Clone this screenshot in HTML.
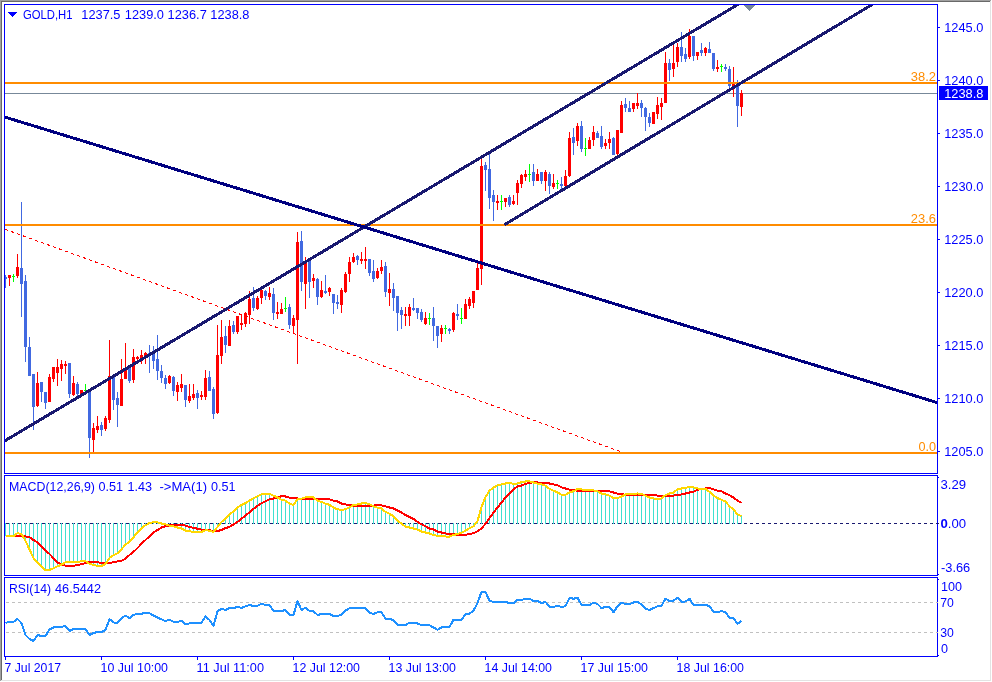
<!DOCTYPE html>
<html><head><meta charset="utf-8"><title>GOLD,H1</title>
<style>
html,body{margin:0;padding:0;background:#fff;overflow:hidden}
svg{display:block}
text{font-family:"Liberation Sans",sans-serif}
</style></head>
<body>
<svg width="992" height="682" viewBox="0 0 992 682" font-family="'Liberation Sans', sans-serif" font-size="13">
<g shape-rendering="crispEdges">
<rect x="0" y="0" width="992" height="682" fill="#ffffff"/>
<rect x="0" y="0" width="991" height="1" fill="#a0a0a0"/>
<rect x="0" y="0" width="1" height="681" fill="#a0a0a0"/>
<rect x="1" y="1" width="989" height="1" fill="#696969"/>
<rect x="1" y="1" width="1" height="679" fill="#696969"/>
<rect x="990" y="1" width="1" height="680" fill="#e3e3e3"/>
<rect x="1" y="680" width="990" height="1" fill="#e3e3e3"/>
<clipPath id="cm"><rect x="5" y="5" width="932" height="468"/></clipPath>
<g clip-path="url(#cm)">
<line x1="5" y1="229.3" x2="621" y2="451.8" stroke="#ff0000" stroke-width="1" stroke-dasharray="3.19 3.19"/>
<rect x="5" y="93" width="932" height="1" fill="#778899"/>
<rect x="5" y="275" width="1" height="13" fill="#4169e1"/>
<rect x="4" y="277" width="3" height="2" fill="#4169e1"/>
<rect x="9" y="275" width="1" height="11" fill="#ff0000"/>
<rect x="8" y="275" width="3" height="3" fill="#ff0000"/>
<rect x="13" y="274" width="1" height="8" fill="#00ff00"/>
<rect x="12" y="276" width="3" height="1" fill="#00ff00"/>
<rect x="17" y="254" width="1" height="24" fill="#ff0000"/>
<rect x="16" y="267" width="3" height="9" fill="#ff0000"/>
<rect x="21" y="202" width="1" height="115" fill="#4169e1"/>
<rect x="20" y="268" width="3" height="16" fill="#4169e1"/>
<rect x="25" y="275" width="1" height="87" fill="#4169e1"/>
<rect x="24" y="281" width="3" height="66" fill="#4169e1"/>
<rect x="29" y="337" width="1" height="39" fill="#4169e1"/>
<rect x="28" y="347" width="3" height="29" fill="#4169e1"/>
<rect x="33" y="374" width="1" height="56" fill="#4169e1"/>
<rect x="32" y="374" width="3" height="33" fill="#4169e1"/>
<rect x="37" y="372" width="1" height="35" fill="#ff0000"/>
<rect x="36" y="383" width="3" height="23" fill="#ff0000"/>
<rect x="41" y="382" width="1" height="20" fill="#4169e1"/>
<rect x="40" y="382" width="3" height="10" fill="#4169e1"/>
<rect x="45" y="392" width="1" height="17" fill="#4169e1"/>
<rect x="44" y="392" width="3" height="11" fill="#4169e1"/>
<rect x="49" y="374" width="1" height="28" fill="#ff0000"/>
<rect x="48" y="377" width="3" height="25" fill="#ff0000"/>
<rect x="53" y="367" width="1" height="15" fill="#ff0000"/>
<rect x="52" y="367" width="3" height="12" fill="#ff0000"/>
<rect x="57" y="359" width="1" height="27" fill="#ff0000"/>
<rect x="56" y="367" width="3" height="6" fill="#ff0000"/>
<rect x="61" y="360" width="1" height="21" fill="#ff0000"/>
<rect x="60" y="364" width="3" height="5" fill="#ff0000"/>
<rect x="65" y="361" width="1" height="13" fill="#ff0000"/>
<rect x="64" y="364" width="3" height="2" fill="#ff0000"/>
<rect x="69" y="363" width="1" height="35" fill="#4169e1"/>
<rect x="68" y="363" width="3" height="31" fill="#4169e1"/>
<rect x="73" y="376" width="1" height="20" fill="#ff0000"/>
<rect x="72" y="383" width="3" height="12" fill="#ff0000"/>
<rect x="77" y="382" width="1" height="14" fill="#4169e1"/>
<rect x="76" y="384" width="3" height="10" fill="#4169e1"/>
<rect x="81" y="390" width="1" height="5" fill="#ff0000"/>
<rect x="80" y="390" width="3" height="4" fill="#ff0000"/>
<rect x="85" y="384" width="1" height="8" fill="#00ff00"/>
<rect x="84" y="390" width="3" height="1" fill="#00ff00"/>
<rect x="89" y="391" width="1" height="67" fill="#4169e1"/>
<rect x="88" y="391" width="3" height="47" fill="#4169e1"/>
<rect x="93" y="423" width="1" height="30" fill="#ff0000"/>
<rect x="92" y="428" width="3" height="12" fill="#ff0000"/>
<rect x="97" y="416" width="1" height="17" fill="#ff0000"/>
<rect x="96" y="426" width="3" height="4" fill="#ff0000"/>
<rect x="101" y="422" width="1" height="14" fill="#4169e1"/>
<rect x="100" y="425" width="3" height="5" fill="#4169e1"/>
<rect x="105" y="416" width="1" height="15" fill="#ff0000"/>
<rect x="104" y="418" width="3" height="11" fill="#ff0000"/>
<rect x="109" y="340" width="1" height="83" fill="#ff0000"/>
<rect x="108" y="376" width="3" height="44" fill="#ff0000"/>
<rect x="113" y="375" width="1" height="35" fill="#4169e1"/>
<rect x="112" y="375" width="3" height="25" fill="#4169e1"/>
<rect x="117" y="392" width="1" height="35" fill="#4169e1"/>
<rect x="116" y="398" width="3" height="7" fill="#4169e1"/>
<rect x="121" y="359" width="1" height="47" fill="#ff0000"/>
<rect x="120" y="379" width="3" height="27" fill="#ff0000"/>
<rect x="125" y="343" width="1" height="36" fill="#ff0000"/>
<rect x="124" y="368" width="3" height="11" fill="#ff0000"/>
<rect x="129" y="368" width="1" height="15" fill="#4169e1"/>
<rect x="128" y="368" width="3" height="13" fill="#4169e1"/>
<rect x="133" y="349" width="1" height="34" fill="#ff0000"/>
<rect x="132" y="357" width="3" height="23" fill="#ff0000"/>
<rect x="137" y="356" width="1" height="4" fill="#ff0000"/>
<rect x="136" y="357" width="3" height="2" fill="#ff0000"/>
<rect x="141" y="350" width="1" height="14" fill="#ff0000"/>
<rect x="140" y="355" width="3" height="3" fill="#ff0000"/>
<rect x="145" y="352" width="1" height="12" fill="#ff0000"/>
<rect x="144" y="353" width="3" height="3" fill="#ff0000"/>
<rect x="149" y="345" width="1" height="28" fill="#4169e1"/>
<rect x="148" y="353" width="3" height="2" fill="#4169e1"/>
<rect x="153" y="346" width="1" height="23" fill="#4169e1"/>
<rect x="152" y="354" width="3" height="7" fill="#4169e1"/>
<rect x="157" y="335" width="1" height="45" fill="#4169e1"/>
<rect x="156" y="359" width="3" height="12" fill="#4169e1"/>
<rect x="161" y="365" width="1" height="18" fill="#4169e1"/>
<rect x="160" y="371" width="3" height="7" fill="#4169e1"/>
<rect x="165" y="375" width="1" height="14" fill="#4169e1"/>
<rect x="164" y="378" width="3" height="6" fill="#4169e1"/>
<rect x="169" y="375" width="1" height="9" fill="#ff0000"/>
<rect x="168" y="376" width="3" height="7" fill="#ff0000"/>
<rect x="173" y="376" width="1" height="20" fill="#4169e1"/>
<rect x="172" y="377" width="3" height="14" fill="#4169e1"/>
<rect x="177" y="382" width="1" height="19" fill="#ff0000"/>
<rect x="176" y="385" width="3" height="7" fill="#ff0000"/>
<rect x="181" y="374" width="1" height="18" fill="#ff0000"/>
<rect x="180" y="384" width="3" height="4" fill="#ff0000"/>
<rect x="185" y="385" width="1" height="22" fill="#4169e1"/>
<rect x="184" y="385" width="3" height="15" fill="#4169e1"/>
<rect x="189" y="384" width="1" height="19" fill="#ff0000"/>
<rect x="188" y="396" width="3" height="5" fill="#ff0000"/>
<rect x="193" y="384" width="1" height="16" fill="#ff0000"/>
<rect x="192" y="394" width="3" height="4" fill="#ff0000"/>
<rect x="197" y="390" width="1" height="19" fill="#4169e1"/>
<rect x="196" y="393" width="3" height="5" fill="#4169e1"/>
<rect x="201" y="391" width="1" height="9" fill="#ff0000"/>
<rect x="200" y="395" width="3" height="2" fill="#ff0000"/>
<rect x="205" y="370" width="1" height="30" fill="#ff0000"/>
<rect x="204" y="378" width="3" height="19" fill="#ff0000"/>
<rect x="209" y="371" width="1" height="20" fill="#4169e1"/>
<rect x="208" y="377" width="3" height="14" fill="#4169e1"/>
<rect x="213" y="387" width="1" height="32" fill="#4169e1"/>
<rect x="212" y="389" width="3" height="25" fill="#4169e1"/>
<rect x="217" y="325" width="1" height="89" fill="#ff0000"/>
<rect x="216" y="355" width="3" height="58" fill="#ff0000"/>
<rect x="221" y="320" width="1" height="44" fill="#ff0000"/>
<rect x="220" y="337" width="3" height="19" fill="#ff0000"/>
<rect x="225" y="326" width="1" height="27" fill="#4169e1"/>
<rect x="224" y="336" width="3" height="9" fill="#4169e1"/>
<rect x="229" y="320" width="1" height="26" fill="#ff0000"/>
<rect x="228" y="326" width="3" height="20" fill="#ff0000"/>
<rect x="233" y="321" width="1" height="13" fill="#4169e1"/>
<rect x="232" y="325" width="3" height="7" fill="#4169e1"/>
<rect x="237" y="316" width="1" height="18" fill="#ff0000"/>
<rect x="236" y="316" width="3" height="16" fill="#ff0000"/>
<rect x="241" y="314" width="1" height="16" fill="#ff0000"/>
<rect x="240" y="323" width="3" height="2" fill="#ff0000"/>
<rect x="245" y="312" width="1" height="15" fill="#ff0000"/>
<rect x="244" y="313" width="3" height="11" fill="#ff0000"/>
<rect x="249" y="291" width="1" height="33" fill="#ff0000"/>
<rect x="248" y="299" width="3" height="16" fill="#ff0000"/>
<rect x="253" y="287" width="1" height="24" fill="#4169e1"/>
<rect x="252" y="298" width="3" height="10" fill="#4169e1"/>
<rect x="257" y="296" width="1" height="14" fill="#ff0000"/>
<rect x="256" y="298" width="3" height="11" fill="#ff0000"/>
<rect x="261" y="288" width="1" height="16" fill="#ff0000"/>
<rect x="260" y="290" width="3" height="8" fill="#ff0000"/>
<rect x="265" y="290" width="1" height="10" fill="#4169e1"/>
<rect x="264" y="291" width="3" height="5" fill="#4169e1"/>
<rect x="269" y="287" width="1" height="13" fill="#ff0000"/>
<rect x="268" y="293" width="3" height="4" fill="#ff0000"/>
<rect x="273" y="288" width="1" height="32" fill="#4169e1"/>
<rect x="272" y="294" width="3" height="19" fill="#4169e1"/>
<rect x="277" y="302" width="1" height="17" fill="#ff0000"/>
<rect x="276" y="312" width="3" height="2" fill="#ff0000"/>
<rect x="281" y="303" width="1" height="11" fill="#ff0000"/>
<rect x="280" y="309" width="3" height="5" fill="#ff0000"/>
<rect x="285" y="297" width="1" height="15" fill="#00ff00"/>
<rect x="284" y="308" width="3" height="1" fill="#00ff00"/>
<rect x="289" y="304" width="1" height="25" fill="#4169e1"/>
<rect x="288" y="307" width="3" height="18" fill="#4169e1"/>
<rect x="293" y="315" width="1" height="19" fill="#ff0000"/>
<rect x="292" y="318" width="3" height="8" fill="#ff0000"/>
<rect x="297" y="232" width="1" height="132" fill="#ff0000"/>
<rect x="296" y="242" width="3" height="78" fill="#ff0000"/>
<rect x="301" y="231" width="1" height="60" fill="#4169e1"/>
<rect x="300" y="241" width="3" height="41" fill="#4169e1"/>
<rect x="305" y="257" width="1" height="52" fill="#ff0000"/>
<rect x="304" y="262" width="3" height="22" fill="#ff0000"/>
<rect x="309" y="260" width="1" height="38" fill="#4169e1"/>
<rect x="308" y="261" width="3" height="21" fill="#4169e1"/>
<rect x="313" y="274" width="1" height="14" fill="#ff0000"/>
<rect x="312" y="278" width="3" height="3" fill="#ff0000"/>
<rect x="317" y="278" width="1" height="27" fill="#4169e1"/>
<rect x="316" y="279" width="3" height="18" fill="#4169e1"/>
<rect x="321" y="281" width="1" height="17" fill="#ff0000"/>
<rect x="320" y="290" width="3" height="7" fill="#ff0000"/>
<rect x="325" y="275" width="1" height="19" fill="#4169e1"/>
<rect x="324" y="291" width="3" height="2" fill="#4169e1"/>
<rect x="329" y="287" width="1" height="9" fill="#ff0000"/>
<rect x="328" y="288" width="3" height="4" fill="#ff0000"/>
<rect x="333" y="294" width="1" height="20" fill="#4169e1"/>
<rect x="332" y="294" width="3" height="9" fill="#4169e1"/>
<rect x="337" y="295" width="1" height="14" fill="#4169e1"/>
<rect x="336" y="302" width="3" height="2" fill="#4169e1"/>
<rect x="341" y="288" width="1" height="25" fill="#ff0000"/>
<rect x="340" y="290" width="3" height="15" fill="#ff0000"/>
<rect x="345" y="272" width="1" height="21" fill="#ff0000"/>
<rect x="344" y="274" width="3" height="18" fill="#ff0000"/>
<rect x="349" y="257" width="1" height="25" fill="#ff0000"/>
<rect x="348" y="262" width="3" height="12" fill="#ff0000"/>
<rect x="353" y="253" width="1" height="10" fill="#ff0000"/>
<rect x="352" y="257" width="3" height="5" fill="#ff0000"/>
<rect x="357" y="255" width="1" height="10" fill="#4169e1"/>
<rect x="356" y="256" width="3" height="4" fill="#4169e1"/>
<rect x="361" y="252" width="1" height="12" fill="#ff0000"/>
<rect x="360" y="259" width="3" height="2" fill="#ff0000"/>
<rect x="365" y="247" width="1" height="22" fill="#ff0000"/>
<rect x="364" y="259" width="3" height="2" fill="#ff0000"/>
<rect x="369" y="259" width="1" height="17" fill="#4169e1"/>
<rect x="368" y="259" width="3" height="14" fill="#4169e1"/>
<rect x="373" y="260" width="1" height="22" fill="#4169e1"/>
<rect x="372" y="271" width="3" height="8" fill="#4169e1"/>
<rect x="377" y="268" width="1" height="11" fill="#ff0000"/>
<rect x="376" y="271" width="3" height="7" fill="#ff0000"/>
<rect x="381" y="260" width="1" height="14" fill="#ff0000"/>
<rect x="380" y="267" width="3" height="4" fill="#ff0000"/>
<rect x="385" y="262" width="1" height="35" fill="#4169e1"/>
<rect x="384" y="266" width="3" height="26" fill="#4169e1"/>
<rect x="389" y="273" width="1" height="33" fill="#ff0000"/>
<rect x="388" y="289" width="3" height="4" fill="#ff0000"/>
<rect x="393" y="283" width="1" height="28" fill="#4169e1"/>
<rect x="392" y="289" width="3" height="9" fill="#4169e1"/>
<rect x="397" y="296" width="1" height="35" fill="#4169e1"/>
<rect x="396" y="296" width="3" height="17" fill="#4169e1"/>
<rect x="401" y="307" width="1" height="22" fill="#4169e1"/>
<rect x="400" y="310" width="3" height="5" fill="#4169e1"/>
<rect x="405" y="307" width="1" height="19" fill="#ff0000"/>
<rect x="404" y="314" width="3" height="2" fill="#ff0000"/>
<rect x="409" y="304" width="1" height="22" fill="#ff0000"/>
<rect x="408" y="307" width="3" height="9" fill="#ff0000"/>
<rect x="413" y="298" width="1" height="13" fill="#4169e1"/>
<rect x="412" y="308" width="3" height="2" fill="#4169e1"/>
<rect x="417" y="308" width="1" height="11" fill="#4169e1"/>
<rect x="416" y="308" width="3" height="5" fill="#4169e1"/>
<rect x="421" y="309" width="1" height="13" fill="#4169e1"/>
<rect x="420" y="312" width="3" height="8" fill="#4169e1"/>
<rect x="425" y="312" width="1" height="13" fill="#ff0000"/>
<rect x="424" y="318" width="3" height="6" fill="#ff0000"/>
<rect x="429" y="313" width="1" height="12" fill="#00ff00"/>
<rect x="428" y="318" width="3" height="1" fill="#00ff00"/>
<rect x="433" y="307" width="1" height="34" fill="#4169e1"/>
<rect x="432" y="318" width="3" height="8" fill="#4169e1"/>
<rect x="437" y="326" width="1" height="22" fill="#4169e1"/>
<rect x="436" y="326" width="3" height="10" fill="#4169e1"/>
<rect x="441" y="325" width="1" height="17" fill="#ff0000"/>
<rect x="440" y="328" width="3" height="6" fill="#ff0000"/>
<rect x="445" y="325" width="1" height="9" fill="#00ff00"/>
<rect x="444" y="328" width="3" height="1" fill="#00ff00"/>
<rect x="449" y="328" width="1" height="6" fill="#4169e1"/>
<rect x="448" y="329" width="3" height="2" fill="#4169e1"/>
<rect x="453" y="312" width="1" height="20" fill="#ff0000"/>
<rect x="452" y="313" width="3" height="17" fill="#ff0000"/>
<rect x="457" y="304" width="1" height="16" fill="#4169e1"/>
<rect x="456" y="314" width="3" height="2" fill="#4169e1"/>
<rect x="461" y="308" width="1" height="16" fill="#00ff00"/>
<rect x="460" y="318" width="3" height="1" fill="#00ff00"/>
<rect x="465" y="299" width="1" height="20" fill="#ff0000"/>
<rect x="464" y="304" width="3" height="15" fill="#ff0000"/>
<rect x="469" y="297" width="1" height="12" fill="#ff0000"/>
<rect x="468" y="299" width="3" height="7" fill="#ff0000"/>
<rect x="473" y="291" width="1" height="17" fill="#ff0000"/>
<rect x="472" y="291" width="3" height="12" fill="#ff0000"/>
<rect x="477" y="263" width="1" height="27" fill="#ff0000"/>
<rect x="476" y="268" width="3" height="22" fill="#ff0000"/>
<rect x="481" y="159" width="1" height="126" fill="#ff0000"/>
<rect x="480" y="166" width="3" height="103" fill="#ff0000"/>
<rect x="485" y="162" width="1" height="29" fill="#4169e1"/>
<rect x="484" y="165" width="3" height="5" fill="#4169e1"/>
<rect x="489" y="154" width="1" height="55" fill="#4169e1"/>
<rect x="488" y="169" width="3" height="29" fill="#4169e1"/>
<rect x="493" y="190" width="1" height="31" fill="#4169e1"/>
<rect x="492" y="195" width="3" height="7" fill="#4169e1"/>
<rect x="497" y="195" width="1" height="15" fill="#ff0000"/>
<rect x="496" y="201" width="3" height="2" fill="#ff0000"/>
<rect x="501" y="195" width="1" height="15" fill="#00ff00"/>
<rect x="500" y="201" width="3" height="1" fill="#00ff00"/>
<rect x="505" y="198" width="1" height="9" fill="#ff0000"/>
<rect x="504" y="198" width="3" height="4" fill="#ff0000"/>
<rect x="509" y="195" width="1" height="12" fill="#4169e1"/>
<rect x="508" y="197" width="3" height="8" fill="#4169e1"/>
<rect x="513" y="195" width="1" height="10" fill="#ff0000"/>
<rect x="512" y="201" width="3" height="3" fill="#ff0000"/>
<rect x="517" y="180" width="1" height="25" fill="#ff0000"/>
<rect x="516" y="183" width="3" height="10" fill="#ff0000"/>
<rect x="521" y="174" width="1" height="14" fill="#ff0000"/>
<rect x="520" y="175" width="3" height="9" fill="#ff0000"/>
<rect x="525" y="170" width="1" height="11" fill="#ff0000"/>
<rect x="524" y="174" width="3" height="3" fill="#ff0000"/>
<rect x="529" y="164" width="1" height="18" fill="#00ff00"/>
<rect x="528" y="174" width="3" height="1" fill="#00ff00"/>
<rect x="533" y="164" width="1" height="22" fill="#4169e1"/>
<rect x="532" y="172" width="3" height="9" fill="#4169e1"/>
<rect x="537" y="169" width="1" height="12" fill="#ff0000"/>
<rect x="536" y="174" width="3" height="7" fill="#ff0000"/>
<rect x="541" y="172" width="1" height="12" fill="#4169e1"/>
<rect x="540" y="172" width="3" height="9" fill="#4169e1"/>
<rect x="545" y="170" width="1" height="21" fill="#ff0000"/>
<rect x="544" y="172" width="3" height="9" fill="#ff0000"/>
<rect x="549" y="172" width="1" height="22" fill="#4169e1"/>
<rect x="548" y="174" width="3" height="12" fill="#4169e1"/>
<rect x="553" y="174" width="1" height="15" fill="#ff0000"/>
<rect x="552" y="183" width="3" height="4" fill="#ff0000"/>
<rect x="557" y="180" width="1" height="9" fill="#00ff00"/>
<rect x="556" y="183" width="3" height="1" fill="#00ff00"/>
<rect x="561" y="177" width="1" height="15" fill="#4169e1"/>
<rect x="560" y="184" width="3" height="2" fill="#4169e1"/>
<rect x="565" y="170" width="1" height="16" fill="#ff0000"/>
<rect x="564" y="176" width="3" height="10" fill="#ff0000"/>
<rect x="569" y="132" width="1" height="45" fill="#ff0000"/>
<rect x="568" y="138" width="3" height="38" fill="#ff0000"/>
<rect x="573" y="128" width="1" height="27" fill="#4169e1"/>
<rect x="572" y="137" width="3" height="6" fill="#4169e1"/>
<rect x="577" y="123" width="1" height="23" fill="#ff0000"/>
<rect x="576" y="126" width="3" height="15" fill="#ff0000"/>
<rect x="581" y="121" width="1" height="31" fill="#4169e1"/>
<rect x="580" y="126" width="3" height="23" fill="#4169e1"/>
<rect x="585" y="138" width="1" height="18" fill="#00ff00"/>
<rect x="584" y="148" width="3" height="1" fill="#00ff00"/>
<rect x="589" y="137" width="1" height="12" fill="#ff0000"/>
<rect x="588" y="140" width="3" height="9" fill="#ff0000"/>
<rect x="593" y="126" width="1" height="20" fill="#ff0000"/>
<rect x="592" y="132" width="3" height="8" fill="#ff0000"/>
<rect x="597" y="131" width="1" height="7" fill="#4169e1"/>
<rect x="596" y="133" width="3" height="5" fill="#4169e1"/>
<rect x="601" y="126" width="1" height="23" fill="#4169e1"/>
<rect x="600" y="136" width="3" height="11" fill="#4169e1"/>
<rect x="605" y="139" width="1" height="10" fill="#ff0000"/>
<rect x="604" y="143" width="3" height="3" fill="#ff0000"/>
<rect x="609" y="132" width="1" height="17" fill="#ff0000"/>
<rect x="608" y="139" width="3" height="4" fill="#ff0000"/>
<rect x="613" y="137" width="1" height="18" fill="#4169e1"/>
<rect x="612" y="138" width="3" height="17" fill="#4169e1"/>
<rect x="617" y="130" width="1" height="25" fill="#ff0000"/>
<rect x="616" y="130" width="3" height="24" fill="#ff0000"/>
<rect x="621" y="101" width="1" height="32" fill="#ff0000"/>
<rect x="620" y="105" width="3" height="28" fill="#ff0000"/>
<rect x="625" y="98" width="1" height="14" fill="#4169e1"/>
<rect x="624" y="104" width="3" height="4" fill="#4169e1"/>
<rect x="629" y="101" width="1" height="11" fill="#4169e1"/>
<rect x="628" y="108" width="3" height="4" fill="#4169e1"/>
<rect x="633" y="103" width="1" height="9" fill="#ff0000"/>
<rect x="632" y="103" width="3" height="6" fill="#ff0000"/>
<rect x="637" y="93" width="1" height="16" fill="#ff0000"/>
<rect x="636" y="103" width="3" height="3" fill="#ff0000"/>
<rect x="641" y="100" width="1" height="17" fill="#4169e1"/>
<rect x="640" y="103" width="3" height="5" fill="#4169e1"/>
<rect x="645" y="107" width="1" height="24" fill="#4169e1"/>
<rect x="644" y="108" width="3" height="9" fill="#4169e1"/>
<rect x="649" y="113" width="1" height="14" fill="#4169e1"/>
<rect x="648" y="117" width="3" height="6" fill="#4169e1"/>
<rect x="653" y="112" width="1" height="12" fill="#ff0000"/>
<rect x="652" y="112" width="3" height="12" fill="#ff0000"/>
<rect x="657" y="97" width="1" height="22" fill="#ff0000"/>
<rect x="656" y="105" width="3" height="9" fill="#ff0000"/>
<rect x="661" y="98" width="1" height="22" fill="#ff0000"/>
<rect x="660" y="103" width="3" height="4" fill="#ff0000"/>
<rect x="665" y="52" width="1" height="51" fill="#ff0000"/>
<rect x="664" y="63" width="3" height="40" fill="#ff0000"/>
<rect x="669" y="59" width="1" height="22" fill="#4169e1"/>
<rect x="668" y="63" width="3" height="7" fill="#4169e1"/>
<rect x="673" y="45" width="1" height="32" fill="#ff0000"/>
<rect x="672" y="63" width="3" height="6" fill="#ff0000"/>
<rect x="677" y="43" width="1" height="24" fill="#ff0000"/>
<rect x="676" y="47" width="3" height="15" fill="#ff0000"/>
<rect x="681" y="32" width="1" height="30" fill="#4169e1"/>
<rect x="680" y="47" width="3" height="9" fill="#4169e1"/>
<rect x="685" y="48" width="1" height="14" fill="#4169e1"/>
<rect x="684" y="54" width="3" height="5" fill="#4169e1"/>
<rect x="689" y="29" width="1" height="30" fill="#ff0000"/>
<rect x="688" y="36" width="3" height="21" fill="#ff0000"/>
<rect x="693" y="36" width="1" height="25" fill="#4169e1"/>
<rect x="692" y="36" width="3" height="20" fill="#4169e1"/>
<rect x="697" y="52" width="1" height="8" fill="#ff0000"/>
<rect x="696" y="52" width="3" height="4" fill="#ff0000"/>
<rect x="701" y="43" width="1" height="13" fill="#4169e1"/>
<rect x="700" y="50" width="3" height="3" fill="#4169e1"/>
<rect x="705" y="47" width="1" height="9" fill="#ff0000"/>
<rect x="704" y="48" width="3" height="5" fill="#ff0000"/>
<rect x="709" y="42" width="1" height="11" fill="#4169e1"/>
<rect x="708" y="49" width="3" height="4" fill="#4169e1"/>
<rect x="713" y="53" width="1" height="18" fill="#4169e1"/>
<rect x="712" y="53" width="3" height="16" fill="#4169e1"/>
<rect x="717" y="60" width="1" height="12" fill="#ff0000"/>
<rect x="716" y="67" width="3" height="2" fill="#ff0000"/>
<rect x="721" y="64" width="1" height="8" fill="#00ff00"/>
<rect x="720" y="66" width="3" height="1" fill="#00ff00"/>
<rect x="725" y="64" width="1" height="7" fill="#4169e1"/>
<rect x="724" y="67" width="3" height="2" fill="#4169e1"/>
<rect x="729" y="66" width="1" height="23" fill="#4169e1"/>
<rect x="728" y="69" width="3" height="17" fill="#4169e1"/>
<rect x="733" y="67" width="1" height="30" fill="#ff0000"/>
<rect x="732" y="82" width="3" height="5" fill="#ff0000"/>
<rect x="737" y="80" width="1" height="47" fill="#4169e1"/>
<rect x="736" y="85" width="3" height="21" fill="#4169e1"/>
<rect x="741" y="90" width="1" height="26" fill="#ff0000"/>
<rect x="740" y="93" width="3" height="14" fill="#ff0000"/>
<rect x="5" y="82" width="932" height="2" fill="#ff8c00"/>
<rect x="5" y="224" width="932" height="2" fill="#ff8c00"/>
<rect x="5" y="452" width="932" height="2" fill="#ff8c00"/>
<line x1="0" y1="443.72" x2="745" y2="0.296" stroke="#191970" stroke-width="3"/>
<line x1="504.5" y1="224.695" x2="880" y2="-0.192" stroke="#191970" stroke-width="3"/>
<line x1="0" y1="115.576" x2="940" y2="403.498" stroke="#000080" stroke-width="3"/>
<polygon points="743.5,5 755.5,5 749.5,11" fill="#778899"/>
</g>
<clipPath id="c2"><rect x="5" y="476" width="932" height="99"/></clipPath>
<g clip-path="url(#c2)">
<line x1="6" y1="523.5" x2="940" y2="523.5" stroke="#191970" stroke-width="1" stroke-dasharray="3 3"/>
<rect x="5" y="523" width="1" height="13" fill="#40e0d0"/>
<rect x="9" y="523" width="1" height="13" fill="#40e0d0"/>
<rect x="13" y="523" width="1" height="13" fill="#40e0d0"/>
<rect x="17" y="523" width="1" height="10" fill="#40e0d0"/>
<rect x="21" y="523" width="1" height="11" fill="#40e0d0"/>
<rect x="25" y="523" width="1" height="18" fill="#40e0d0"/>
<rect x="29" y="523" width="1" height="27" fill="#40e0d0"/>
<rect x="33" y="523" width="1" height="35" fill="#40e0d0"/>
<rect x="37" y="523" width="1" height="40" fill="#40e0d0"/>
<rect x="41" y="523" width="1" height="44" fill="#40e0d0"/>
<rect x="45" y="523" width="1" height="47" fill="#40e0d0"/>
<rect x="49" y="523" width="1" height="47" fill="#40e0d0"/>
<rect x="53" y="523" width="1" height="45" fill="#40e0d0"/>
<rect x="57" y="523" width="1" height="43" fill="#40e0d0"/>
<rect x="61" y="523" width="1" height="41" fill="#40e0d0"/>
<rect x="65" y="523" width="1" height="39" fill="#40e0d0"/>
<rect x="69" y="523" width="1" height="39" fill="#40e0d0"/>
<rect x="73" y="523" width="1" height="39" fill="#40e0d0"/>
<rect x="77" y="523" width="1" height="39" fill="#40e0d0"/>
<rect x="81" y="523" width="1" height="38" fill="#40e0d0"/>
<rect x="85" y="523" width="1" height="38" fill="#40e0d0"/>
<rect x="89" y="523" width="1" height="41" fill="#40e0d0"/>
<rect x="93" y="523" width="1" height="42" fill="#40e0d0"/>
<rect x="97" y="523" width="1" height="43" fill="#40e0d0"/>
<rect x="101" y="523" width="1" height="43" fill="#40e0d0"/>
<rect x="105" y="523" width="1" height="41" fill="#40e0d0"/>
<rect x="109" y="523" width="1" height="35" fill="#40e0d0"/>
<rect x="113" y="523" width="1" height="32" fill="#40e0d0"/>
<rect x="117" y="523" width="1" height="30" fill="#40e0d0"/>
<rect x="121" y="523" width="1" height="26" fill="#40e0d0"/>
<rect x="125" y="523" width="1" height="22" fill="#40e0d0"/>
<rect x="129" y="523" width="1" height="19" fill="#40e0d0"/>
<rect x="133" y="523" width="1" height="14" fill="#40e0d0"/>
<rect x="137" y="523" width="1" height="9" fill="#40e0d0"/>
<rect x="141" y="523" width="1" height="5" fill="#40e0d0"/>
<rect x="145" y="523" width="1" height="2" fill="#40e0d0"/>
<rect x="149" y="523" width="1" height="1" fill="#40e0d0"/>
<rect x="153" y="522" width="1" height="2" fill="#40e0d0"/>
<rect x="157" y="522" width="1" height="2" fill="#40e0d0"/>
<rect x="161" y="523" width="1" height="1" fill="#40e0d0"/>
<rect x="165" y="523" width="1" height="1" fill="#40e0d0"/>
<rect x="169" y="523" width="1" height="3" fill="#40e0d0"/>
<rect x="173" y="523" width="1" height="3" fill="#40e0d0"/>
<rect x="177" y="523" width="1" height="5" fill="#40e0d0"/>
<rect x="181" y="523" width="1" height="5" fill="#40e0d0"/>
<rect x="185" y="523" width="1" height="8" fill="#40e0d0"/>
<rect x="189" y="523" width="1" height="8" fill="#40e0d0"/>
<rect x="193" y="523" width="1" height="9" fill="#40e0d0"/>
<rect x="197" y="523" width="1" height="9" fill="#40e0d0"/>
<rect x="201" y="523" width="1" height="9" fill="#40e0d0"/>
<rect x="205" y="523" width="1" height="7" fill="#40e0d0"/>
<rect x="209" y="523" width="1" height="8" fill="#40e0d0"/>
<rect x="213" y="523" width="1" height="9" fill="#40e0d0"/>
<rect x="217" y="523" width="1" height="4" fill="#40e0d0"/>
<rect x="221" y="522" width="1" height="2" fill="#40e0d0"/>
<rect x="225" y="519" width="1" height="5" fill="#40e0d0"/>
<rect x="229" y="514" width="1" height="10" fill="#40e0d0"/>
<rect x="233" y="511" width="1" height="13" fill="#40e0d0"/>
<rect x="237" y="508" width="1" height="16" fill="#40e0d0"/>
<rect x="241" y="505" width="1" height="19" fill="#40e0d0"/>
<rect x="245" y="503" width="1" height="21" fill="#40e0d0"/>
<rect x="249" y="501" width="1" height="23" fill="#40e0d0"/>
<rect x="253" y="498" width="1" height="26" fill="#40e0d0"/>
<rect x="257" y="496" width="1" height="28" fill="#40e0d0"/>
<rect x="261" y="494" width="1" height="30" fill="#40e0d0"/>
<rect x="265" y="494" width="1" height="30" fill="#40e0d0"/>
<rect x="269" y="494" width="1" height="30" fill="#40e0d0"/>
<rect x="273" y="496" width="1" height="28" fill="#40e0d0"/>
<rect x="277" y="498" width="1" height="26" fill="#40e0d0"/>
<rect x="281" y="500" width="1" height="24" fill="#40e0d0"/>
<rect x="285" y="501" width="1" height="23" fill="#40e0d0"/>
<rect x="289" y="504" width="1" height="20" fill="#40e0d0"/>
<rect x="293" y="505" width="1" height="19" fill="#40e0d0"/>
<rect x="297" y="499" width="1" height="25" fill="#40e0d0"/>
<rect x="301" y="499" width="1" height="25" fill="#40e0d0"/>
<rect x="305" y="497" width="1" height="27" fill="#40e0d0"/>
<rect x="309" y="497" width="1" height="27" fill="#40e0d0"/>
<rect x="313" y="498" width="1" height="26" fill="#40e0d0"/>
<rect x="317" y="501" width="1" height="23" fill="#40e0d0"/>
<rect x="321" y="502" width="1" height="22" fill="#40e0d0"/>
<rect x="325" y="504" width="1" height="20" fill="#40e0d0"/>
<rect x="329" y="505" width="1" height="19" fill="#40e0d0"/>
<rect x="333" y="508" width="1" height="16" fill="#40e0d0"/>
<rect x="337" y="509" width="1" height="15" fill="#40e0d0"/>
<rect x="341" y="510" width="1" height="14" fill="#40e0d0"/>
<rect x="345" y="509" width="1" height="15" fill="#40e0d0"/>
<rect x="349" y="507" width="1" height="17" fill="#40e0d0"/>
<rect x="353" y="505" width="1" height="19" fill="#40e0d0"/>
<rect x="357" y="504" width="1" height="20" fill="#40e0d0"/>
<rect x="361" y="504" width="1" height="20" fill="#40e0d0"/>
<rect x="365" y="503" width="1" height="21" fill="#40e0d0"/>
<rect x="369" y="504" width="1" height="20" fill="#40e0d0"/>
<rect x="373" y="506" width="1" height="18" fill="#40e0d0"/>
<rect x="377" y="508" width="1" height="16" fill="#40e0d0"/>
<rect x="381" y="508" width="1" height="16" fill="#40e0d0"/>
<rect x="385" y="512" width="1" height="12" fill="#40e0d0"/>
<rect x="389" y="514" width="1" height="10" fill="#40e0d0"/>
<rect x="393" y="516" width="1" height="8" fill="#40e0d0"/>
<rect x="397" y="521" width="1" height="3" fill="#40e0d0"/>
<rect x="401" y="523" width="1" height="1" fill="#40e0d0"/>
<rect x="405" y="523" width="1" height="3" fill="#40e0d0"/>
<rect x="409" y="523" width="1" height="5" fill="#40e0d0"/>
<rect x="413" y="523" width="1" height="5" fill="#40e0d0"/>
<rect x="417" y="523" width="1" height="7" fill="#40e0d0"/>
<rect x="421" y="523" width="1" height="9" fill="#40e0d0"/>
<rect x="425" y="523" width="1" height="9" fill="#40e0d0"/>
<rect x="429" y="523" width="1" height="11" fill="#40e0d0"/>
<rect x="433" y="523" width="1" height="12" fill="#40e0d0"/>
<rect x="437" y="523" width="1" height="13" fill="#40e0d0"/>
<rect x="441" y="523" width="1" height="13" fill="#40e0d0"/>
<rect x="445" y="523" width="1" height="13" fill="#40e0d0"/>
<rect x="449" y="523" width="1" height="13" fill="#40e0d0"/>
<rect x="453" y="523" width="1" height="12" fill="#40e0d0"/>
<rect x="457" y="523" width="1" height="11" fill="#40e0d0"/>
<rect x="461" y="523" width="1" height="10" fill="#40e0d0"/>
<rect x="465" y="523" width="1" height="8" fill="#40e0d0"/>
<rect x="469" y="523" width="1" height="5" fill="#40e0d0"/>
<rect x="473" y="523" width="1" height="3" fill="#40e0d0"/>
<rect x="477" y="521" width="1" height="3" fill="#40e0d0"/>
<rect x="481" y="507" width="1" height="17" fill="#40e0d0"/>
<rect x="485" y="497" width="1" height="27" fill="#40e0d0"/>
<rect x="489" y="491" width="1" height="33" fill="#40e0d0"/>
<rect x="493" y="488" width="1" height="36" fill="#40e0d0"/>
<rect x="497" y="485" width="1" height="39" fill="#40e0d0"/>
<rect x="501" y="484" width="1" height="40" fill="#40e0d0"/>
<rect x="505" y="484" width="1" height="40" fill="#40e0d0"/>
<rect x="509" y="483" width="1" height="41" fill="#40e0d0"/>
<rect x="513" y="484" width="1" height="40" fill="#40e0d0"/>
<rect x="517" y="484" width="1" height="40" fill="#40e0d0"/>
<rect x="521" y="482" width="1" height="42" fill="#40e0d0"/>
<rect x="525" y="482" width="1" height="42" fill="#40e0d0"/>
<rect x="529" y="481" width="1" height="43" fill="#40e0d0"/>
<rect x="533" y="482" width="1" height="42" fill="#40e0d0"/>
<rect x="537" y="484" width="1" height="40" fill="#40e0d0"/>
<rect x="541" y="484" width="1" height="40" fill="#40e0d0"/>
<rect x="545" y="486" width="1" height="38" fill="#40e0d0"/>
<rect x="549" y="489" width="1" height="35" fill="#40e0d0"/>
<rect x="553" y="491" width="1" height="33" fill="#40e0d0"/>
<rect x="557" y="492" width="1" height="32" fill="#40e0d0"/>
<rect x="561" y="495" width="1" height="29" fill="#40e0d0"/>
<rect x="565" y="495" width="1" height="29" fill="#40e0d0"/>
<rect x="569" y="492" width="1" height="32" fill="#40e0d0"/>
<rect x="573" y="491" width="1" height="33" fill="#40e0d0"/>
<rect x="577" y="489" width="1" height="35" fill="#40e0d0"/>
<rect x="581" y="489" width="1" height="35" fill="#40e0d0"/>
<rect x="585" y="490" width="1" height="34" fill="#40e0d0"/>
<rect x="589" y="490" width="1" height="34" fill="#40e0d0"/>
<rect x="593" y="490" width="1" height="34" fill="#40e0d0"/>
<rect x="597" y="491" width="1" height="33" fill="#40e0d0"/>
<rect x="601" y="494" width="1" height="30" fill="#40e0d0"/>
<rect x="605" y="494" width="1" height="30" fill="#40e0d0"/>
<rect x="609" y="496" width="1" height="28" fill="#40e0d0"/>
<rect x="613" y="498" width="1" height="26" fill="#40e0d0"/>
<rect x="617" y="498" width="1" height="26" fill="#40e0d0"/>
<rect x="621" y="496" width="1" height="28" fill="#40e0d0"/>
<rect x="625" y="494" width="1" height="30" fill="#40e0d0"/>
<rect x="629" y="494" width="1" height="30" fill="#40e0d0"/>
<rect x="633" y="494" width="1" height="30" fill="#40e0d0"/>
<rect x="637" y="494" width="1" height="30" fill="#40e0d0"/>
<rect x="641" y="494" width="1" height="30" fill="#40e0d0"/>
<rect x="645" y="496" width="1" height="28" fill="#40e0d0"/>
<rect x="649" y="498" width="1" height="26" fill="#40e0d0"/>
<rect x="653" y="498" width="1" height="26" fill="#40e0d0"/>
<rect x="657" y="499" width="1" height="25" fill="#40e0d0"/>
<rect x="661" y="498" width="1" height="26" fill="#40e0d0"/>
<rect x="665" y="495" width="1" height="29" fill="#40e0d0"/>
<rect x="669" y="494" width="1" height="30" fill="#40e0d0"/>
<rect x="673" y="492" width="1" height="32" fill="#40e0d0"/>
<rect x="677" y="489" width="1" height="35" fill="#40e0d0"/>
<rect x="681" y="488" width="1" height="36" fill="#40e0d0"/>
<rect x="685" y="488" width="1" height="36" fill="#40e0d0"/>
<rect x="689" y="487" width="1" height="37" fill="#40e0d0"/>
<rect x="693" y="487" width="1" height="37" fill="#40e0d0"/>
<rect x="697" y="488" width="1" height="36" fill="#40e0d0"/>
<rect x="701" y="489" width="1" height="35" fill="#40e0d0"/>
<rect x="705" y="489" width="1" height="35" fill="#40e0d0"/>
<rect x="709" y="492" width="1" height="32" fill="#40e0d0"/>
<rect x="713" y="496" width="1" height="28" fill="#40e0d0"/>
<rect x="717" y="498" width="1" height="26" fill="#40e0d0"/>
<rect x="721" y="500" width="1" height="24" fill="#40e0d0"/>
<rect x="725" y="502" width="1" height="22" fill="#40e0d0"/>
<rect x="729" y="506" width="1" height="18" fill="#40e0d0"/>
<rect x="733" y="509" width="1" height="15" fill="#40e0d0"/>
<rect x="737" y="514" width="1" height="10" fill="#40e0d0"/>
<rect x="741" y="516" width="1" height="8" fill="#40e0d0"/>
<polyline points="5.5,536 9.5,536 13.5,536 17.5,536 21.5,535.75 25.5,536.4 29.5,537.25 33.5,540 37.5,542.6 41.5,546.6 45.5,550.75 49.5,553.9 53.5,558.25 57.5,562.6 61.5,564.5 65.5,565.75 69.5,565.75 73.5,565.75 77.5,564.9 81.5,564.25 85.5,563 89.5,562.25 93.5,562.25 97.5,562.25 101.5,563 105.5,563 109.5,563 113.5,562.25 117.5,561.4 121.5,560.7 125.5,558.75 129.5,555 133.5,551.9 137.5,548.1 141.5,543.75 145.5,540 149.5,536.25 153.5,532.5 157.5,530 161.5,527.5 165.5,526.25 169.5,525.25 173.5,524.75 177.5,524.75 181.5,525 185.5,525.6 189.5,526.9 193.5,527.75 197.5,528.75 201.5,529.6 205.5,530 209.5,530.25 213.5,531 217.5,531 221.5,530 225.5,528.1 229.5,526.9 233.5,524.4 237.5,521.9 241.5,518.75 245.5,515.6 249.5,512.25 253.5,508.75 257.5,506 261.5,503.1 265.5,501.25 269.5,499.4 273.5,498.5 277.5,497.25 281.5,496.25 285.5,496.5 289.5,497.75 293.5,498.1 297.5,498.5 301.5,498.75 305.5,498.75 309.5,498.75 313.5,498.75 317.5,498.75 321.5,498.75 325.5,498.75 329.5,499.4 333.5,500.6 337.5,501.5 341.5,503.5 345.5,504.4 349.5,505.25 353.5,505.6 357.5,506 361.5,506 365.5,506 369.5,506 373.5,505.6 377.5,505 381.5,505.4 385.5,506.25 389.5,507.5 393.5,508.5 397.5,510.4 401.5,512.5 405.5,515 409.5,516.9 413.5,519 417.5,521.9 421.5,524.4 425.5,526.25 429.5,528.5 433.5,529.4 437.5,531.5 441.5,532.5 445.5,533.5 449.5,533.75 453.5,534 457.5,534.75 461.5,534.75 465.5,534.75 469.5,534 473.5,533.1 477.5,531.25 481.5,528.4 485.5,523.75 489.5,518.1 493.5,512.5 497.5,507.5 501.5,502.5 505.5,497.5 509.5,493.1 513.5,489.4 517.5,486.5 521.5,485.6 525.5,483.75 529.5,483.1 533.5,482.25 537.5,482.5 541.5,483.1 545.5,483.1 549.5,483.5 553.5,484.4 557.5,485.25 561.5,487.25 565.5,488.5 569.5,489.75 573.5,490.25 577.5,490.6 581.5,491 585.5,491 589.5,491 593.5,491 597.5,490.6 601.5,491 605.5,491 609.5,491.25 613.5,492.5 617.5,493.75 621.5,494 625.5,494.75 629.5,495 633.5,495 637.5,495 641.5,494.6 645.5,495 649.5,495 653.5,495 657.5,495.6 661.5,496 665.5,496.25 669.5,496 673.5,495.6 677.5,495 681.5,494.4 685.5,493.5 689.5,492.5 693.5,491.9 697.5,489.75 701.5,489 705.5,488.5 709.5,488.1 713.5,489.4 717.5,490.6 721.5,491.25 725.5,493.5 729.5,495.25 733.5,497.5 737.5,500.6 741.5,502.75" fill="none" stroke="#ff0000" stroke-width="2" stroke-linejoin="round"/>
<polyline points="5.5,536 9.5,536 13.5,536 17.5,533.25 21.5,534 25.5,540.75 29.5,549.5 33.5,558.25 37.5,562.6 41.5,566.75 45.5,570.1 49.5,570 53.5,568.25 57.5,566.4 61.5,564.5 65.5,562.25 69.5,562.25 73.5,562.25 77.5,562 81.5,561.1 85.5,561.1 89.5,563.9 93.5,564.9 97.5,565.75 101.5,566 105.5,563.9 109.5,557.9 113.5,555.1 117.5,553.25 121.5,549.2 125.5,544.75 129.5,541.6 133.5,537.25 137.5,532.5 141.5,528.1 145.5,525.25 149.5,523.1 153.5,522.25 157.5,522.25 161.5,523.5 165.5,524.4 169.5,525.6 173.5,526.25 177.5,527.5 181.5,528.5 185.5,530.6 189.5,531.25 193.5,531.9 197.5,531.9 201.5,531.9 205.5,530.25 209.5,530.6 213.5,531.9 217.5,526.9 221.5,521.9 225.5,518.75 229.5,514.4 233.5,511.25 237.5,507.5 241.5,505 245.5,503.1 249.5,500.6 253.5,498.1 257.5,496.25 261.5,494.4 265.5,494 269.5,494 273.5,495.6 277.5,497.5 281.5,499.75 285.5,500.6 289.5,503.5 293.5,505 297.5,499 301.5,498.75 305.5,497.25 309.5,497.25 313.5,497.5 317.5,500.6 321.5,501.9 325.5,503.75 329.5,504.75 333.5,507.5 337.5,509.4 341.5,509.75 345.5,509.4 349.5,507.25 353.5,505 357.5,504.4 361.5,503.5 365.5,503.1 369.5,504.4 373.5,506.25 377.5,507.75 381.5,508.5 385.5,511.9 389.5,513.75 393.5,516.25 397.5,520.6 401.5,523.75 405.5,526.5 409.5,527.5 413.5,528.5 417.5,529.6 421.5,531.5 425.5,532.5 429.5,533.5 433.5,535 437.5,535.9 441.5,535.9 445.5,536.5 449.5,536.5 453.5,535 457.5,534 461.5,532.75 465.5,530.6 469.5,528.1 473.5,526.25 477.5,521.25 481.5,506.9 485.5,497.25 489.5,490.6 493.5,487.5 497.5,485.25 501.5,484.4 505.5,483.5 509.5,483.1 513.5,483.75 517.5,483.5 521.5,482.25 525.5,481.5 529.5,481.25 533.5,482.5 537.5,483.75 541.5,484.4 545.5,485.6 549.5,489 553.5,490.6 557.5,492.5 561.5,494.75 565.5,494.75 569.5,492.5 573.5,491.25 577.5,489 581.5,489.4 585.5,490 589.5,490.25 593.5,490.4 597.5,491.25 601.5,493.6 605.5,494.4 609.5,495.6 613.5,498.1 617.5,498.1 621.5,496.5 625.5,494.4 629.5,494 633.5,494 637.5,493.5 641.5,493.75 645.5,495.8 649.5,497.5 653.5,498.5 657.5,498.75 661.5,498.5 665.5,495 669.5,493.5 673.5,492.5 677.5,489.4 681.5,488.5 685.5,487.75 689.5,486.9 693.5,487.25 697.5,488.5 701.5,488.75 705.5,489 709.5,491.9 713.5,495.6 717.5,498.1 721.5,499.75 725.5,501.5 729.5,506.25 733.5,509.4 737.5,514.4 741.5,516" fill="none" stroke="#ffd700" stroke-width="2" stroke-linejoin="round"/>
</g>
<clipPath id="c3"><rect x="5" y="578" width="932" height="78"/></clipPath>
<g clip-path="url(#c3)">
<line x1="6" y1="602.5" x2="938" y2="602.5" stroke="#c0c0c0" stroke-width="1" stroke-dasharray="3 3"/>
<line x1="6" y1="632.5" x2="938" y2="632.5" stroke="#c0c0c0" stroke-width="1" stroke-dasharray="3 3"/>
<polyline points="5.5,622.75 9.5,622.25 13.5,621.9 17.5,619 21.5,623.1 25.5,635 29.5,639 33.5,641 37.5,635 41.5,636 45.5,636 49.5,629.4 53.5,627.5 57.5,626.9 61.5,626.9 65.5,626 69.5,631 73.5,629 77.5,629 81.5,629 85.5,629 89.5,635 93.5,633.1 97.5,631.9 101.5,631.9 105.5,630 109.5,619 113.5,622.5 117.5,622.5 121.5,618.1 125.5,615.6 129.5,618.1 133.5,614.75 137.5,614 141.5,613.75 145.5,612.75 149.5,613.1 153.5,615.6 157.5,617.5 161.5,619.4 165.5,621 169.5,619.75 173.5,621.9 177.5,621.9 181.5,621 185.5,624 189.5,623.5 193.5,622.75 197.5,622.75 201.5,622.75 205.5,616.5 209.5,620 213.5,626 217.5,611.25 221.5,608.75 225.5,610 229.5,608.1 233.5,608.1 237.5,606.9 241.5,607.9 245.5,606.25 249.5,605 253.5,606 257.5,605.6 261.5,604 265.5,604.75 269.5,605 273.5,611 277.5,611 281.5,611 285.5,610 289.5,615 293.5,615 297.5,601 301.5,610 305.5,607.75 309.5,611 313.5,611.25 317.5,615 321.5,614 325.5,614 329.5,614 333.5,616 337.5,616 341.5,614.75 345.5,610.6 349.5,608.1 353.5,608.1 357.5,608.1 361.5,608.1 365.5,608.1 369.5,612.5 373.5,614 377.5,612.25 381.5,612.25 385.5,618.75 389.5,618.75 393.5,620.25 397.5,624.75 401.5,625 405.5,625 409.5,622.5 413.5,622.5 417.5,623.5 421.5,625 425.5,625 429.5,625.25 433.5,627.5 437.5,629.75 441.5,627.5 445.5,626.9 449.5,626.9 453.5,619.75 457.5,620 461.5,620 465.5,614.4 469.5,613.75 473.5,610.6 477.5,603.1 481.5,591.9 485.5,591.9 489.5,600.6 493.5,601.9 497.5,601.9 501.5,601.9 505.5,601.9 509.5,603.1 513.5,603.1 517.5,600 521.5,600 525.5,598.75 529.5,598.75 533.5,601 537.5,601 541.5,603.1 545.5,601.9 549.5,606.9 553.5,606.9 557.5,606 561.5,606.9 565.5,606.25 569.5,597.75 573.5,598.75 577.5,597.75 581.5,605 585.5,605 589.5,605 593.5,602.75 597.5,604 601.5,608.1 605.5,606.9 609.5,606.9 613.5,612.25 617.5,606.25 621.5,602.75 625.5,604 629.5,604 633.5,602.5 637.5,601.9 641.5,604.4 645.5,608.75 649.5,610 653.5,608.1 657.5,606.25 661.5,605.6 665.5,598.75 669.5,601 673.5,600.6 677.5,597.75 681.5,601.9 685.5,601.5 689.5,598.75 693.5,605 697.5,605 701.5,605 705.5,605 709.5,606 713.5,611.9 717.5,611.9 721.5,611.25 725.5,611.9 729.5,618.1 733.5,618.1 737.5,624 741.5,621" fill="none" stroke="#1e90ff" stroke-width="2" stroke-linejoin="round"/>
</g>
<rect x="4" y="4" width="934" height="1" fill="#0000ff"/>
<rect x="4" y="473" width="934" height="1" fill="#0000ff"/>
<rect x="4" y="4" width="1" height="470" fill="#0000ff"/>
<rect x="937" y="4" width="1" height="470" fill="#0000ff"/>
<rect x="4" y="475" width="934" height="1" fill="#0000ff"/>
<rect x="4" y="575" width="934" height="1" fill="#0000ff"/>
<rect x="4" y="475" width="1" height="101" fill="#0000ff"/>
<rect x="937" y="475" width="1" height="101" fill="#0000ff"/>
<rect x="4" y="577" width="934" height="1" fill="#0000ff"/>
<rect x="4" y="656" width="934" height="1" fill="#0000ff"/>
<rect x="4" y="577" width="1" height="80" fill="#0000ff"/>
<rect x="937" y="577" width="1" height="80" fill="#0000ff"/>
<rect x="938" y="27" width="2" height="1" fill="#0000ff"/>
<rect x="938" y="80" width="2" height="1" fill="#0000ff"/>
<rect x="938" y="133" width="2" height="1" fill="#0000ff"/>
<rect x="938" y="186" width="2" height="1" fill="#0000ff"/>
<rect x="938" y="239" width="2" height="1" fill="#0000ff"/>
<rect x="938" y="292" width="2" height="1" fill="#0000ff"/>
<rect x="938" y="345" width="2" height="1" fill="#0000ff"/>
<rect x="938" y="398" width="2" height="1" fill="#0000ff"/>
<rect x="938" y="451" width="2" height="1" fill="#0000ff"/>
<rect x="938" y="477" width="1" height="1" fill="#0000ff"/>
<rect x="937" y="523" width="2" height="1" fill="#191970"/>
<rect x="938" y="574" width="1" height="1" fill="#0000ff"/>
<rect x="938" y="579" width="1" height="1" fill="#0000ff"/>
<rect x="938" y="655" width="1" height="1" fill="#0000ff"/>
<rect x="937" y="602" width="1" height="1" fill="#c0c0c0"/>
<rect x="937" y="632" width="1" height="1" fill="#c0c0c0"/>
<rect x="5" y="657" width="1" height="3" fill="#0000ff"/>
<rect x="101" y="657" width="1" height="3" fill="#0000ff"/>
<rect x="197" y="657" width="1" height="3" fill="#0000ff"/>
<rect x="293" y="657" width="1" height="3" fill="#0000ff"/>
<rect x="389" y="657" width="1" height="3" fill="#0000ff"/>
<rect x="485" y="657" width="1" height="3" fill="#0000ff"/>
<rect x="581" y="657" width="1" height="3" fill="#0000ff"/>
<rect x="677" y="657" width="1" height="3" fill="#0000ff"/>
<rect x="939" y="86" width="49" height="14" fill="#0000ff"/>
<polygon points="7.5,12 17.5,12 12.5,17" fill="#0000ff"/>
</g>
<g>
<text y="19" fill="#0000ff" font-size="13"><tspan x="23" textLength="49.5" lengthAdjust="spacingAndGlyphs">GOLD,H1</tspan>  <tspan x="81.3" textLength="39.2" lengthAdjust="spacingAndGlyphs">1237.5</tspan> <tspan x="124.8" textLength="39.2" lengthAdjust="spacingAndGlyphs">1239.0</tspan> <tspan x="167.6" textLength="39.2" lengthAdjust="spacingAndGlyphs">1236.7</tspan> <tspan x="210.3" textLength="39.2" lengthAdjust="spacingAndGlyphs">1238.8</tspan></text>
<text x="944.2" y="32" fill="#0000ff" font-size="13" textLength="39.2" lengthAdjust="spacingAndGlyphs">1245.0</text>
<text x="944.2" y="85" fill="#0000ff" font-size="13" textLength="39.2" lengthAdjust="spacingAndGlyphs">1240.0</text>
<text x="944.2" y="138" fill="#0000ff" font-size="13" textLength="39.2" lengthAdjust="spacingAndGlyphs">1235.0</text>
<text x="944.2" y="191" fill="#0000ff" font-size="13" textLength="39.2" lengthAdjust="spacingAndGlyphs">1230.0</text>
<text x="944.2" y="244" fill="#0000ff" font-size="13" textLength="39.2" lengthAdjust="spacingAndGlyphs">1225.0</text>
<text x="944.2" y="297" fill="#0000ff" font-size="13" textLength="39.2" lengthAdjust="spacingAndGlyphs">1220.0</text>
<text x="944.2" y="350" fill="#0000ff" font-size="13" textLength="39.2" lengthAdjust="spacingAndGlyphs">1215.0</text>
<text x="944.2" y="403" fill="#0000ff" font-size="13" textLength="39.2" lengthAdjust="spacingAndGlyphs">1210.0</text>
<text x="944.2" y="456" fill="#0000ff" font-size="13" textLength="39.2" lengthAdjust="spacingAndGlyphs">1205.0</text>
<text x="944.2" y="98" fill="#ffffff" font-size="13" textLength="39.2" lengthAdjust="spacingAndGlyphs">1238.8</text>
<text x="936" y="81" fill="#ff8c00" font-size="13" text-anchor="end" textLength="25.2" lengthAdjust="spacingAndGlyphs">38.2</text>
<text x="936" y="223" fill="#ff8c00" font-size="13" text-anchor="end" textLength="25.2" lengthAdjust="spacingAndGlyphs">23.6</text>
<text x="936" y="451" fill="#ff8c00" font-size="13" text-anchor="end" textLength="17.6" lengthAdjust="spacingAndGlyphs">0.0</text>
<text y="491" fill="#0000ff" font-size="13"><tspan x="9" textLength="86" lengthAdjust="spacingAndGlyphs">MACD(12,26,9)</tspan> <tspan x="98.4" textLength="24.6" lengthAdjust="spacingAndGlyphs">0.51</tspan> <tspan x="127.5" textLength="24.6" lengthAdjust="spacingAndGlyphs">1.43</tspan>  <tspan x="159.5" textLength="47.5" lengthAdjust="spacingAndGlyphs">-&gt;MA(1)</tspan> <tspan x="211" textLength="24.6" lengthAdjust="spacingAndGlyphs">0.51</tspan></text>
<text x="940.5" y="489" fill="#0000ff" font-size="13" textLength="25.6" lengthAdjust="spacingAndGlyphs">3.29</text>
<text x="940.5" y="528" fill="#0000ff" font-size="13" textLength="25.6" lengthAdjust="spacingAndGlyphs"><tspan font-weight="bold">0</tspan>.00</text>
<text x="941" y="572" fill="#0000ff" font-size="13" textLength="29.2" lengthAdjust="spacingAndGlyphs">-3.66</text>
<text y="593" fill="#0000ff" font-size="13"><tspan x="9" textLength="42" lengthAdjust="spacingAndGlyphs">RSI(14)</tspan> <tspan x="55" textLength="46" lengthAdjust="spacingAndGlyphs">46.5442</tspan></text>
<text x="941" y="591" fill="#0000ff" font-size="13" textLength="21" lengthAdjust="spacingAndGlyphs">100</text>
<text x="940.3" y="607" fill="#0000ff" font-size="13" textLength="13.6" lengthAdjust="spacingAndGlyphs">70</text>
<text x="940.3" y="637" fill="#0000ff" font-size="13" textLength="13.6" lengthAdjust="spacingAndGlyphs">30</text>
<text x="941" y="653" fill="#0000ff" font-size="13" textLength="7" lengthAdjust="spacingAndGlyphs">0</text>
<text x="4.5" y="672" fill="#0000ff" font-size="13" textLength="56.5" lengthAdjust="spacingAndGlyphs">7 Jul 2017</text>
<text x="100.5" y="672" fill="#0000ff" font-size="13" textLength="67.5" lengthAdjust="spacingAndGlyphs">10 Jul 10:00</text>
<text x="196.5" y="672" fill="#0000ff" font-size="13" textLength="67.5" lengthAdjust="spacingAndGlyphs">11 Jul 11:00</text>
<text x="292.5" y="672" fill="#0000ff" font-size="13" textLength="67.5" lengthAdjust="spacingAndGlyphs">12 Jul 12:00</text>
<text x="388.5" y="672" fill="#0000ff" font-size="13" textLength="67.5" lengthAdjust="spacingAndGlyphs">13 Jul 13:00</text>
<text x="484.5" y="672" fill="#0000ff" font-size="13" textLength="67.5" lengthAdjust="spacingAndGlyphs">14 Jul 14:00</text>
<text x="580.5" y="672" fill="#0000ff" font-size="13" textLength="67.5" lengthAdjust="spacingAndGlyphs">17 Jul 15:00</text>
<text x="676.5" y="672" fill="#0000ff" font-size="13" textLength="67.5" lengthAdjust="spacingAndGlyphs">18 Jul 16:00</text>
</g>
</svg>
</body></html>
